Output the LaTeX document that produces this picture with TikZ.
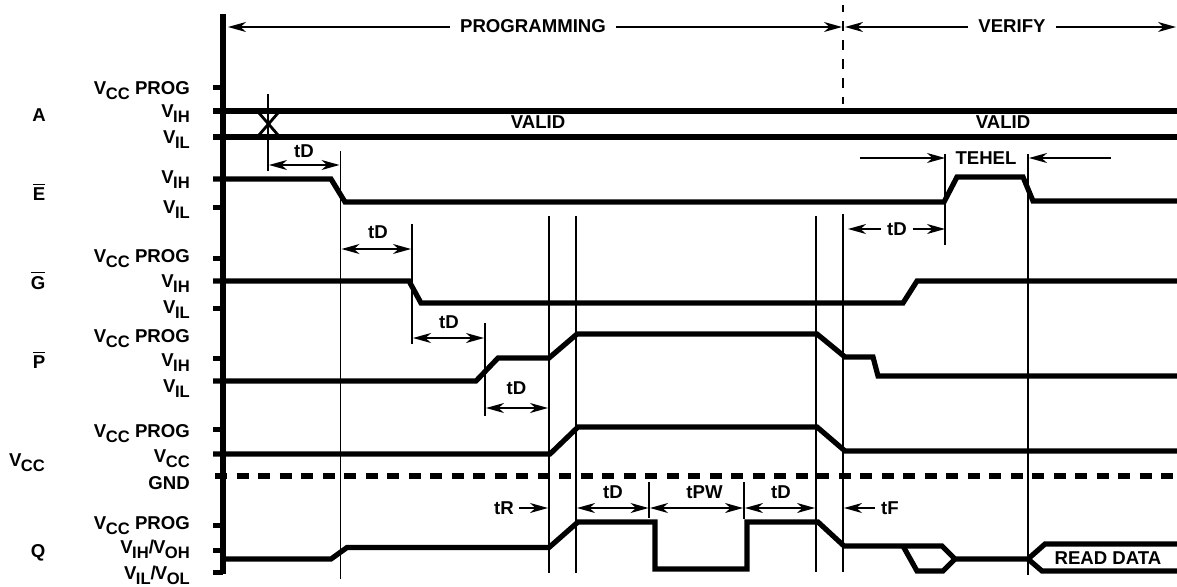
\documentclass[tikz,border=0pt]{standalone}
\usepackage{fontspec}
\setmainfont{Liberation Sans}
\usetikzlibrary{arrows.meta}
\newcommand{\volt}[2]{V\kern-0.5pt\raisebox{-5pt}{\fontsize{16.6}{18}\selectfont #1}#2}
\newcommand{\barsig}[1]{\vbox{\hrule height 1.1pt\kern2.6pt\hbox{#1}}}
\tikzset{
  signal/.style={line width=5.2pt, miter limit=3},
  edgeline/.style={line width=1.5pt},
  dimline/.style={line width=1.4pt, -{Stealth[length=18pt,width=10pt,inset=5.5pt]}},
  dimboth/.style={line width=1.4pt, {Stealth[length=18pt,width=10pt,inset=5.5pt]}-{Stealth[length=18pt,width=10pt,inset=5.5pt]}},
  txt/.style={font=\bfseries\fontsize{18.6}{20}\selectfont},
  level/.style={txt, anchor=base east, inner sep=0pt},
  signame/.style={txt, anchor=base, inner sep=0pt},
  dimlabel/.style={txt, inner sep=0pt}
}
\begin{document}
\begin{tikzpicture}[x=1pt,y=-1pt]
      \useasboundingbox (0,0) rectangle (1177,586);
      % Axis and ticks
      \draw[line width=5.4pt] (223,14) -- (223,573.5);
      \foreach \yt in {87,137,207,258,308,358,429,525,550,572}
         \draw[line width=5pt] (213,\yt) -- (223,\yt);
      % Level labels
      \foreach \nm/\yb/\tx in {
         pa/94/{\volt{CC}{ PROG}}, ia/117/{\volt{IH}{}}, la/143/{\volt{IL}{}},
         ie/183/{\volt{IH}{}}, le/213/{\volt{IL}{}},
         pg/262/{\volt{CC}{ PROG}}, ig/287/{\volt{IH}{}}, lg/313/{\volt{IL}{}},
         pp/342/{\volt{CC}{ PROG}}, ip/366/{\volt{IH}{}}, lp/392/{\volt{IL}{}},
         pv/437/{\volt{CC}{ PROG}}, vv/462/{\volt{CC}{}}, gv/489/{GND},
         pq/529/{\volt{CC}{ PROG}}}
         \node[level] (\nm) at (190,\yb) {\tx};
      \node[level] (iq) at (190,553) {\volt{IH}{/}\kern-1pt\volt{OH}{}};
      \node[level] (lq) at (190,579) {\volt{IL}{/}\kern-1pt\volt{OL}{}};
      % Signal names
      \node[signame] (sigA) at (39,121) {A};
      \node[signame] (sigE) at (39,200) {\barsig{E}};
      \node[signame] (sigG) at (38,289) {\barsig{G}};
      \node[signame] (sigP) at (39,368) {\barsig{P}};
      \node[signame] (sigV) at (27,466) {\volt{CC}{}};
      \node[signame] (sigQ) at (38,557) {Q};
      % Edges
      \draw[edgeline] (268,94) -- (268,171);
      \draw[edgeline] (340.5,151) -- (340.5,579);
      \draw[edgeline] (412,224) -- (412,344);
      \draw[edgeline] (485,323) -- (485,416);
      \draw[edgeline] (549,216) -- (549,573);
      \draw[edgeline] (576,216) -- (576,573);
      \draw[edgeline] (649,482) -- (649,518);
      \draw[edgeline] (744,482) -- (744,519);
      \draw[edgeline] (816,216) -- (816,572);
      \draw[edgeline] (843,214) -- (843,572);
      \draw[edgeline] (945,154) -- (945,245);
      \draw[edgeline] (1028,154) -- (1028,575);
      \draw[edgeline, dash pattern=on 10pt off 9pt, dash phase=3pt] (843,5) -- (843,104);
      % Signals
      \draw[signal] (213,111) -- (1177,111);
      \draw[signal] (213,137) -- (1177,137);
      \draw[line width=2.8pt] (259,113) -- (278,135);
      \draw[line width=2.8pt] (278,113) -- (259,135);
      \draw[signal] (213,179) -- (331,179) -- (345,202) -- (944,202) -- (957,177) -- (1023,177) -- (1033,201) -- (1177,201);
      \draw[signal] (213,281) -- (409,281) -- (421,303) -- (903,303) -- (917,281) -- (1177,281);
      \draw[signal] (213,381) -- (476,381) -- (498,358) -- (549,358) -- (577,334) -- (817,334) -- (845,357) -- (873,357) -- (878,376) -- (1177,376);
      \draw[signal] (213,454) -- (550,454) -- (578,427) -- (817,427) -- (845,451) -- (1177,451);
      \draw[line width=5.2pt, dash pattern=on 12pt off 9.5pt] (215,476) -- (1177,476);
      \draw[signal] (226,559) -- (331,559) -- (347,547.5) -- (549,547.5) -- (578,522) -- (655,522) -- (655,569) -- (747,569) -- (747,522) -- (818,522) -- (844,546) -- (942,546) -- (955,559) -- (1028,559) -- (1045,544) -- (1177,544);
      \draw[signal] (903,546) -- (917,571) -- (943,571) -- (955,559);
      \draw[signal] (1028,559) -- (1042,571) -- (1177,571);
      % Phases
      \node[txt, inner sep=10pt] (prog) at (533,26) {PROGRAMMING};
      \node[txt, inner sep=10pt] (verif) at (1012,26) {VERIFY};
      \coordinate (progL) at (228,27);
      \coordinate (progR) at (842,27);
      \coordinate (verifL) at (845,27);
      \coordinate (verifR) at (1176,27);
      \draw[dimline] (prog.west |- progL) -- (progL);
      \draw[dimline] (prog.east |- progR) -- (progR);
      \draw[dimline] (verif.west |- verifL) -- (verifL);
      \draw[dimline] (verif.east |- verifR) -- (verifR);
      \node[dimlabel] (validA) at (538,122) {VALID};
      \node[dimlabel] (validB) at (1003,122) {VALID};
      \node[dimlabel] (tehel) at (986,158) {TEHEL};
      % Delays
      \foreach \nm/\xa/\xb/\ya/\xt/\yt/\tx in {
         dA/269/339.5/165/304/151/tD,
         dB/341.5/411/249/378/232/tD,
         dC/413/484/338/449/322/tD,
         dD/486/548/408/516.5/388/tD,
         dE/577/648.5/508/613/492/tD,
         dF/650/743/508/704.5/492/tPW,
         dG/745/815/508/781/492/tD}{
         \coordinate (\nm L) at (\xa,\ya);
         \coordinate (\nm R) at (\xb,\ya);
         \draw[dimboth] (\nm L) -- (\nm R);
         \node[dimlabel] (\nm) at (\xt,\yt) {\tx};
      }
      \node[dimlabel, inner sep=6pt] (tdH) at (897,229) {tD};
      \coordinate (tdHL) at (848,229);
      \coordinate (tdHR) at (945,229);
      \draw[dimline] (tdH) -- (tdHL);
      \draw[dimline] (tdH) -- (tdHR);
      \coordinate (tehelL) at (860,158);
      \coordinate (tehelLe) at (945,158);
      \coordinate (tehelR) at (1111,158);
      \coordinate (tehelRe) at (1029,158);
      \draw[dimline] (tehelL) -- (tehelLe);
      \draw[dimline] (tehelR) -- (tehelRe);
      \node[dimlabel, inner sep=5pt] (tR) at (504,508) {tR};
      \coordinate (tRe) at (548,508);
      \draw[dimline] (tR) -- (tRe);
      \node[dimlabel, inner sep=6pt] (tF) at (890,508) {tF};
      \coordinate (tFe) at (844,508);
      \draw[dimline] (tF) -- (tFe);
      \node[dimlabel] (rdata) at (1108,558) {READ DATA};
   \end{tikzpicture}
\end{document}
